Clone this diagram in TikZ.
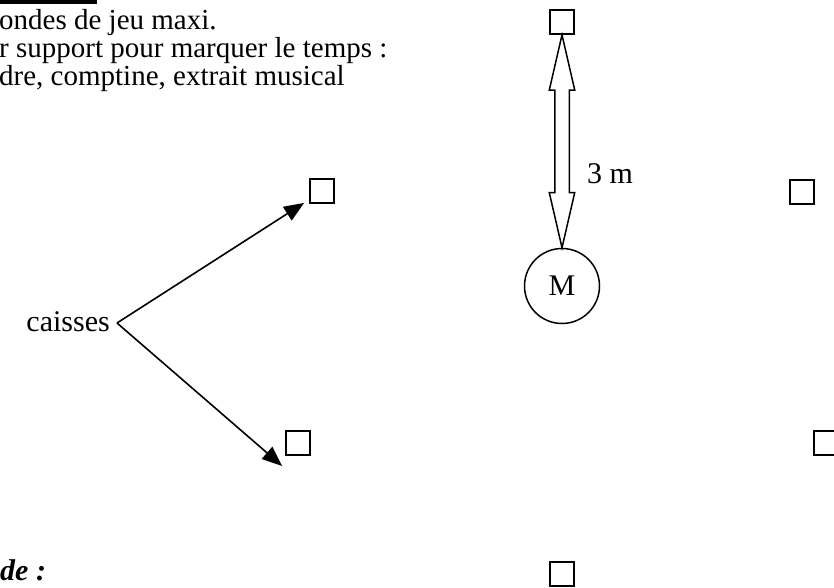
\documentclass[tikz,border=0pt]{standalone}
\usepackage{fontspec}
\setmainfont{Liberation Serif}
\usetikzlibrary{positioning,arrows.meta,calc,shapes.arrows}

\tikzset{
  caisse/.style={draw, line width=1.8pt, minimum size=24, inner sep=0},
  fleche/.style={line width=1.6pt, -{Triangle[length=20,width=16]}},
}

\begin{document}
\begin{tikzpicture}[x=1pt,y=-1pt, font=\fontsize{30}{28}\selectfont]
  \useasboundingbox (0,0) rectangle (834,588);
  \fill (0,0) rectangle (97,4);
  \node[anchor=base west, align=left, inner sep=0,
        font={\fontsize{29}{28}\selectfont\lineskiplimit-20pt\relax}]
    (consignes) at (-1,86)
    {ondes de jeu maxi.\\r support pour marquer le temps :\\dre, comptine, extrait musical};

  % caisses
  \node[caisse] (t1) at (562,22) {};
  \node[caisse] (r1) at (802,192) {};
  \node[caisse] (b1) at (322,191) {};
  \node[caisse] (b2) at (298,443) {};
  \node[caisse] (r2) at (826,443) {};
  \node[caisse] (b3) at (562,574) {};
  \node[circle, draw, line width=1.5pt, minimum size=75, inner sep=0] (M) at (562,286) {M};

  % distance
  \path let \p1=($(t1.south)-(M.north)$), \n1={veclen(\x1,\y1)} in
    node[double arrow, draw, line width=1.5pt, rotate=90, minimum height=\n1,
         inner sep=0, inner ysep=6.5, double arrow head extend=5.5,
         double arrow head indent=0, double arrow tip angle=26]
    (dist) at ($(t1.south)!0.5!(M.north)$) {};
  \node[anchor=base west, inner sep=0] (trois) at (587,183) {3 m};

  \node[anchor=base east, inner sep=0] (lbl) at (110,331) {caisses};
  \coordinate (v) at (117,323);
  \draw[fleche] (v) -- ($(b1.south west)+(-5,-1)$);
  \draw[fleche] (v) -- ($(b2.south west)+(-3,10)$);

  \node[anchor=base west, inner sep=0, font=\fontsize{30}{28}\selectfont\bfseries\itshape] (methode) at (0,580) {de :};
\end{tikzpicture}
\end{document}
